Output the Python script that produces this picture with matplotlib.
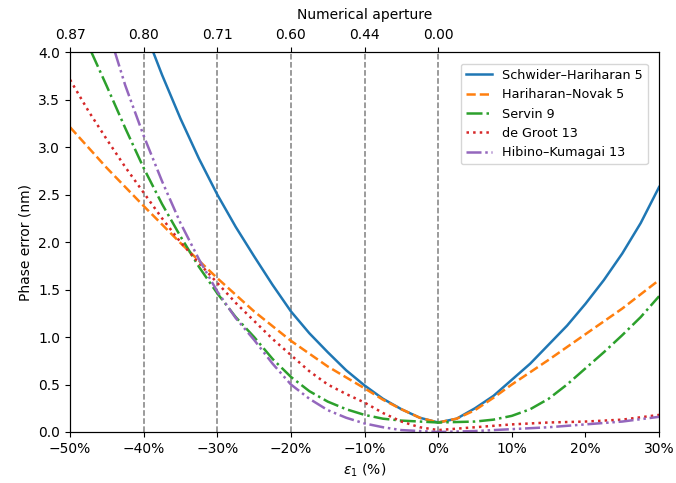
import numpy as np
import matplotlib
matplotlib.use('Agg')
import matplotlib.pyplot as plt
from matplotlib.ticker import FuncFormatter

# values (epsilon_1 in %, phase error in nm)
x_sh = [-38.7, -37.5, -35, -32.5, -30, -27.5, -25, -22.5, -20, -17.5, -15, -12.5, -10, -7.5, -5, -2.5, 0,
        2.5, 5, 7.5, 10, 12.5, 15, 17.5, 20, 22.5, 25, 27.5, 30]
y_sh = [4.0, 3.76, 3.3, 2.88, 2.5, 2.16, 1.85, 1.55, 1.27, 1.04, 0.84, 0.65, 0.49, 0.35, 0.24, 0.15, 0.1,
        0.14, 0.25, 0.38, 0.55, 0.72, 0.92, 1.12, 1.35, 1.6, 1.88, 2.2, 2.58]

x_hn = [-50, -45, -40, -35, -30, -25, -20, -15, -10, -7.5, -5, -2.5, 0, 2.5, 5, 7.5, 10, 15, 20, 25, 30]
y_hn = [3.21, 2.78, 2.38, 1.99, 1.62, 1.27, 0.96, 0.69, 0.46, 0.34, 0.24, 0.15, 0.1, 0.14, 0.23, 0.36, 0.5,
        0.76, 1.03, 1.3, 1.6]

x_sv = [-47.1, -45, -42.5, -40, -37.5, -35, -32.5, -30, -27.5, -25, -22.5, -20, -17.5, -15, -12.5, -10,
        -7.5, -5, 0, 5, 7.5, 10, 12.5, 15, 17.5, 20, 22.5, 25, 27.5, 30]
y_sv = [4.0, 3.64, 3.2, 2.78, 2.4, 2.06, 1.74, 1.46, 1.21, 1.0, 0.77, 0.58, 0.43, 0.32, 0.24, 0.18,
        0.14, 0.12, 0.1, 0.11, 0.13, 0.17, 0.24, 0.35, 0.5, 0.67, 0.84, 1.02, 1.21, 1.43]

x_dg = [-50, -47.5, -45, -42.5, -40, -37.5, -35, -32.5, -30, -27.5, -25, -22.5, -20, -17.5, -15, -12.5,
        -10, -7.5, -5, -2.5, 0, 5, 10, 15, 20, 25, 30]
y_dg = [3.71, 3.38, 3.08, 2.79, 2.52, 2.25, 2.0, 1.78, 1.57, 1.36, 1.17, 0.98, 0.81, 0.64, 0.5, 0.4,
        0.31, 0.2, 0.11, 0.05, 0.02, 0.05, 0.08, 0.1, 0.11, 0.13, 0.18]

x_hk = [-43.9, -42.5, -40, -37.5, -35, -32.5, -30, -27.5, -25, -22.5, -20, -17.5, -15, -12.5, -10, -7.5,
        -5, 0, 5, 10, 15, 20, 25, 30]
y_hk = [4.0, 3.65, 3.12, 2.64, 2.2, 1.82, 1.48, 1.2, 0.97, 0.72, 0.5, 0.35, 0.23, 0.15, 0.09, 0.05,
        0.02, 0.0, 0.01, 0.03, 0.05, 0.08, 0.11, 0.16]

na_pos = [-50, -40, -30, -20, -10, 0]
na_labels = ['0.87', '0.80', '0.71', '0.60', '0.44', '0.00']
grid_pos = [-40, -30, -20, -10, 0]

fig = plt.figure(figsize=(6.76, 4.83), dpi=100)
ax = fig.add_axes([0.1036, 0.1056, 0.8714, 0.7864])

ax.plot(x_sh, y_sh, '-', color='#1f77b4', lw=1.8, label='Schwider\u2013Hariharan 5')
ax.plot(x_hn, y_hn, '--', color='#ff7f0e', lw=1.8, label='Hariharan\u2013Novak 5')
ax.plot(x_sv, y_sv, '-.', color='#2ca02c', lw=1.8, label='Servin 9')
ax.plot(x_dg, y_dg, ':', color='#d62728', lw=1.8, label='de Groot 13')
ax.plot(x_hk, y_hk, color='#9467bd', lw=1.8, dashes=(6, 1.5, 1, 1.5, 1, 1.5),
        label='Hibino\u2013Kumagai 13')

for g in grid_pos:
  ax.axvline(g, color='grey', ls='--', lw=1.1, zorder=0)

ax.set_xlim(-50, 30)
ax.set_ylim(0, 4)
ax.set_xticks(np.arange(-50, 31, 10))
ax.xaxis.set_major_formatter(FuncFormatter(lambda v, p: f'{int(v)}%'.replace('-', '\u2212')))
ax.set_xlabel(r'$\varepsilon_1$ (%)')
ax.set_ylabel('Phase error (nm)')
ax.legend(loc='upper right', fontsize=9.2, borderaxespad=0.9)

ax2 = ax.twiny()
ax2.set_xlim(ax.get_xlim())
ax2.set_xticks(na_pos)
ax2.set_xticklabels(na_labels)
ax2.set_xlabel('Numerical aperture', labelpad=7)

plt.savefig('out.png', dpi=100)
